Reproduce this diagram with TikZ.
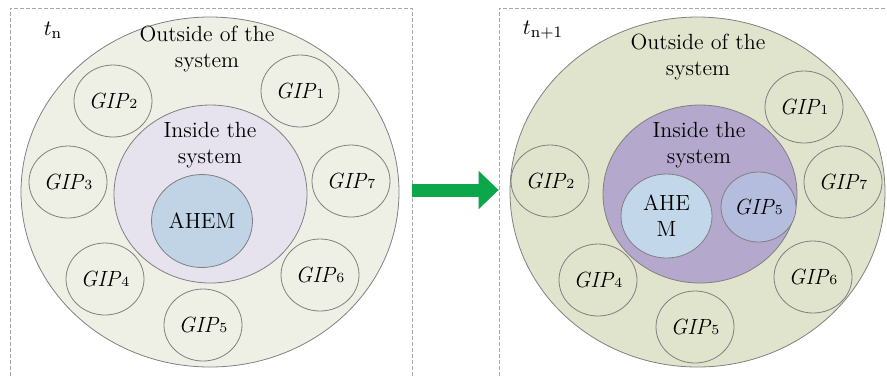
\documentclass[tikz,border=0pt]{standalone}
\usepackage{xcolor}
\definecolor{paleolive}{HTML}{EEF0E5}
\definecolor{palelilac}{HTML}{E6E3EF}
\definecolor{steelblue}{HTML}{C0D4E6}
\definecolor{sage}{HTML}{E0E4CC}
\definecolor{lilac}{HTML}{B4A8CD}
\definecolor{iceblue}{HTML}{C2D7E9}
\definecolor{periwinkle}{HTML}{B4BDDE}
\definecolor{arrowgreen}{HTML}{0CA64B}
\usepackage{tikz}
\usetikzlibrary{shapes.geometric, arrows.meta}

\tikzset{
	ring/.style={ellipse, draw=black!50, line width=0.4pt, inner sep=0pt, align=center},
	gip/.style={ring, minimum width=39pt, minimum height=36pt},
	panel/.style={draw=black!35, dash pattern=on 2pt off 1pt, line width=0.4pt, minimum width=201pt, minimum height=196pt, inner sep=0pt},
	blurb/.style={align=center, inner sep=0pt},
	flow/.style={line width=6.5pt, draw=arrowgreen, -{Triangle[width=18.5pt, length=10pt]}}
}
\newcommand{\gipname}[1]{\textit{GIP}{\scriptsize #1}}

\begin{document}
\begin{tikzpicture}[x=0.5pt, y=-0.5pt, font=\fontsize{11}{13}\selectfont]
	\useasboundingbox (0,0) rectangle (887,377);
	\clip (0,0) rectangle (887,377);
	
	% time step t_n
	\node[panel] (panelL) at (211,204) {};
	\node[ring, fill=paleolive, minimum width=189pt, minimum height=175pt] (outL) at (210,192) {};
	\node[blurb] (outtextL) at (207,49) {Outside of the\\system};
	\node[blurb] (tL) at (53,30) {$t_{\mathrm{n}}$};
	\foreach \idx/\px/\py in {1/300/91, 2/113/101, 3/68/182, 7/351/181, 4/105/279, 6/320/275, 5/203/325} {
		\node[gip, fill=paleolive] (gipL\idx) at (\px,\py) {\gipname{\idx}};
	}
	\node[ring, fill=palelilac, minimum width=96.5pt, minimum height=89pt] (inL) at (210.5,194) {};
	\node[blurb] (intextL) at (210,145) {Inside the\\system};
	\node[ring, fill=steelblue, minimum width=50.5pt, minimum height=46.5pt] (ahemL) at (202,221) {AHEM};
	
	% time step t_n+1
	\node[panel] (panelR) at (700,204) {};
	\node[ring, fill=sage, minimum width=187.5pt, minimum height=175pt] (outR) at (697.5,192) {};
	\node[blurb] (outtextR) at (698,57) {Outside of the\\system};
	\node[blurb] (tR) at (543,30) {$t_{\mathrm{n+1}}$};
	\foreach \idx/\px/\py in {1/804/107, 2/550/181, 7/843/182, 4/598/280, 6/813/277, 5/695/327} {
		\node[gip, fill=sage] (gipR\idx) at (\px,\py) {\gipname{\idx}};
	}
	\node[ring, fill=lilac, minimum width=97pt, minimum height=89pt] (inR) at (700,194) {};
	\node[blurb] (intextR) at (699,145.5) {Inside the\\system};
	\node[ring, fill=iceblue, minimum width=45.5pt, minimum height=42pt] (ahemR) at (666.5,216) {AHE\\M};
	\node[ring, fill=periwinkle, minimum width=37.5pt, minimum height=35pt] (gipIn5) at (758.5,207) {\gipname{5}};
	
	% transition
	\coordinate (axis) at (0,190);
	\draw[flow, draw=black!12, shift={(2,2)}] (panelL.east |- axis) -- (panelR.west |- axis);
	\draw[flow] (panelL.east |- axis) -- (panelR.west |- axis);
\end{tikzpicture}
\end{document}
